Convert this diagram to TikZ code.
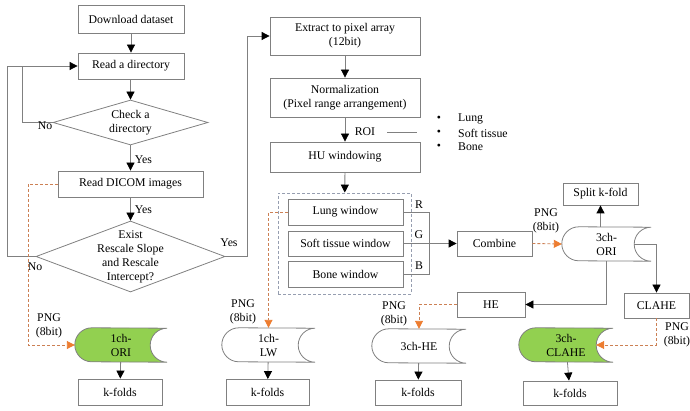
\documentclass[tikz,border=0pt]{standalone}
\usepackage{fontspec}
\setmainfont{Liberation Serif}
\usetikzlibrary{arrows.meta,shapes.geometric,backgrounds}
\definecolor{linegray}{RGB}{128,128,128}
\definecolor{storegreen}{RGB}{146,208,80}
\definecolor{pngorange}{RGB}{237,125,49}
\definecolor{pngdash}{RGB}{204,128,84}
\definecolor{groupgray}{RGB}{150,158,176}
\tikzset{
  every node/.append style={font=\fontsize{11.8}{14}\selectfont, align=center, inner sep=0pt},
  procbox/.style={draw=linegray, line width=0.8pt, rectangle, minimum width=#1},
  decision/.style={draw=linegray, line width=0.8pt, diamond},
  store/.style={rectangle, minimum width=#1, minimum height=34pt},
  storeline/.style={draw=linegray, line width=0.8pt},
  groupbox/.style={draw=groupgray, line width=0.8pt, dash pattern=on 3pt off 2pt, rectangle},
  plain/.style={draw=linegray, line width=0.8pt},
  flow/.style={plain, -{Triangle[width=8pt,length=8pt,color=black]}},
  pngflow/.style={draw=pngdash, line width=0.9pt, dash pattern=on 3pt off 2pt,
    -{Triangle[width=8pt,length=8pt,color=pngorange]}},
}
% outline of a stored-data symbol: round left end, hollow right end
\newcommand\storeoutline[2]{%
  \path[storeline, fill=#2] ([xshift=17pt]#1.north west)
    arc[start angle=90, end angle=270, radius=17pt] -- (#1.south east)
    arc[start angle=270, end angle=90, radius=17pt] -- cycle;}
\begin{document}
\begin{tikzpicture}[x=1pt, y=1pt]
\useasboundingbox (0,0) rectangle (690,-411);

% ---- left column: reading the data
\node[procbox=106, minimum height=28] (dl) at (131,-19) {Download dataset};
\node[procbox=106, minimum height=26] (rd) at (131,-66) {Read a directory};
\node[decision, minimum width=155, minimum height=45] (chk) at (130.5,-122.5) {};
\node (chk-text) at (chk) {Check a\\directory};
\node[procbox=145, minimum height=26] (dicom) at (130.5,-184) {Read DICOM images};
\node[decision, minimum width=189, minimum height=71] (ex) at (130.5,-256.5) {};
\node (ex-text) at (ex) {Exist\\Rescale Slope\\and Rescale\\Intercept?};

% ---- centre column: pixel processing
\node[procbox=150, minimum height=38] (ext) at (345,-36) {Extract to pixel array\\(12bit)};
\node[procbox=150, minimum height=39] (norm) at (345,-97.5) {Normalization\\(Pixel range arrangement)};
\node[procbox=150, minimum height=30] (hu) at (345,-157) {HU windowing};
\node[groupbox, minimum width=133, minimum height=101] (grp) at (344.5,-243.5) {};
\node[procbox=115, minimum height=26] (lung) at (345.5,-212) {Lung window};
\node[procbox=115, minimum height=25] (soft) at (345.5,-243.5) {Soft tissue window};
\node[procbox=115, minimum height=26] (bone) at (345.5,-274) {Bone window};

% ---- ROI list
\node (roi) at (365,-132) {ROI};
\coordinate (roiA) at (387,-132.5);
\coordinate (roiB) at (417,-132.5);
\node (b1) at (439,-119) {•};
\node (b2) at (439,-133) {•};
\node (b3) at (439,-147) {•};
\node[anchor=west] (t1) at (458,-119) {Lung};
\node[anchor=west] (t2) at (458,-133) {Soft tissue};
\node[anchor=west] (t3) at (458,-147) {Bone};

% ---- right side: combination and enhancement
\node[procbox=75, minimum height=25] (comb) at (494.5,-243.5) {Combine};
\node[procbox=75, minimum height=22] (split) at (600.5,-194) {Split k-fold};
\node[store=89] (ori3) at (606.5,-244) {3ch-\\ORI};
\node[procbox=65, minimum height=25] (clahe) at (656.5,-305.5) {CLAHE};
\node[procbox=68, minimum height=25] (he) at (491,-304.5) {HE};

% ---- output images and folds
\node[store=92] (ori1) at (121,-345) {1ch-\\ORI};
\node[store=93] (lw1) at (268.5,-345) {1ch-\\LW};
\node[store=94] (he3) at (419,-346) {3ch-HE};
\node[store=94] (cl3) at (566,-345) {3ch-\\CLAHE};
\node[procbox=84, minimum height=26] (kf1) at (120,-392) {k-folds};
\node[procbox=83, minimum height=26] (kf2) at (267.5,-392.5) {k-folds};
\node[procbox=86, minimum height=25] (kf3) at (418,-392.5) {k-folds};
\node[procbox=94, minimum height=24] (kf4) at (570,-393) {k-folds};

\begin{scope}[on background layer]
  \storeoutline{ori1}{storegreen}
  \storeoutline{lw1}{white}
  \storeoutline{he3}{white}
  \storeoutline{cl3}{storegreen}
  \storeoutline{ori3}{white}
\end{scope}

% ---- connectors
\draw[flow] (dl) -- (rd);
\draw[flow] (chk-text |- rd.south) -- (chk.north);
\draw[flow] (chk.south) -- (dicom.north) node[pos=0.55, anchor=west, xshift=4pt] (yes1) {Yes};
\draw[flow] (chk.west) -- (22,-122.5) |- (rd.west);
\node (no1) at (45,-126) {No};
\draw[flow] (dicom.south) -- (ex.north) node[pos=0.55, anchor=west, xshift=4pt] (yes2) {Yes};
\draw[plain] (ex.west) -- (7,-256.5) |- (22,-66);
\node (no2) at (35,-267) {No};
\draw[flow] (ex.east) -- (247,-256.5) |- (ext.west);
\node (yes3) at (229,-243) {Yes};

\draw[flow] (ext) -- (norm);
\draw[flow] (norm) -- (hu);
\draw[plain] (roiA) -- (roiB);
\draw[flow] (hu) -- (grp);

\draw[plain] (lung.east) -- (429,-212) -- (429,-274) -- (bone.east);
\draw[flow] (soft.east) -- (comb.west);
\node (R) at (419,-205) {R};
\node (G) at (419,-235) {G};
\node (B) at (419,-266) {B};

\draw[pngflow] (comb.east) -- (ori3.west);
\node (png1) at (546,-220.5) {PNG\\(8bit)};
\draw[flow] (ori3.north -| split) -- (split.south);
\draw[flow] ([xshift=-17pt]ori3.east) -- (clahe.north |- ori3) -- (clahe.north);
\draw[flow] (ori3.south) -- (ori3.south |- he) -- (he.east);

\draw[pngflow] (dicom.west) -- (28,-184) |- (ori1.west);
\node (png2) at (49,-325.5) {PNG\\(8bit)};
\draw[pngflow] (lung.west) -| (lw1.north);
\node (png3) at (243,-311.5) {PNG\\(8bit)};
\draw[pngflow] (he.west) -| (he3.north);
\node (png4) at (394,-314) {PNG\\(8bit)};
\draw[pngflow] (clahe.south) |- ([xshift=-17pt]cl3.east);
\node (png5) at (677,-335) {PNG\\(8bit)};

\draw[flow] (ori1) -- (kf1);
\draw[flow] (lw1) -- (kf2);
\draw[flow] (he3) -- (kf3);
\draw[flow] (cl3) -- (kf4);
\end{tikzpicture}
\end{document}
